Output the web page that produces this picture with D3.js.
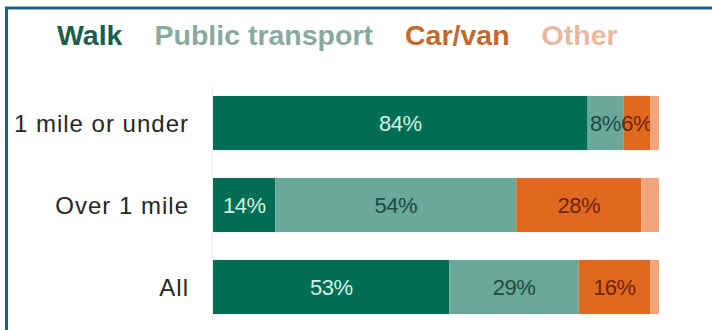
<!DOCTYPE html>
<html>
<head>
<meta charset="utf-8">
<script src="https://cdn.jsdelivr.net/npm/d3@7"></script>
<style>
  html, body { margin: 0; padding: 0; background: #fff; }
  svg { display: block; font-family: "Liberation Sans", Arial, sans-serif; }
</style>
</head>
<body>
<div id="chart"></div>
<script>
const categories = ['1 mile or under', 'Over 1 mile', 'All'];
const modes = ['Walk', 'Public transport', 'Car/van', 'Other'];
const walk = [84, 14, 53];
const publicTransport = [8, 54, 29];
const carVan = [6, 28, 16];
const other = [2, 4, 2];

const barColors = ['#006e54', '#6aa89a', '#e0691f', '#f0a57a'];
const legendColors = ['#1c5e4c', '#88aa9e', '#c4692e', '#e8b9a1'];
const labelColors = ['#d2f2e4', '#1e4a42', '#6b2410', '#6b2410'];

const W = 712, H = 330;

const rows = categories.map((c, i) => ({
  cat: c,
  'Walk': walk[i],
  'Public transport': publicTransport[i],
  'Car/van': carVan[i],
  'Other': other[i]
}));

const svg = d3.select('#chart').append('svg')
  .attr('width', W)
  .attr('height', H);

// frame
svg.append('line')
  .attr('x1', 5).attr('x2', W).attr('y1', 8).attr('y2', 8)
  .attr('stroke', '#1b6088').attr('stroke-width', 3);
svg.append('line')
  .attr('x1', 6.5).attr('x2', 6.5).attr('y1', 7).attr('y2', H)
  .attr('stroke', '#1b6088').attr('stroke-width', 3);

const x = d3.scaleLinear().domain([0, 100]).range([213, 659]);
const y = d3.scaleBand().domain(categories).range([82, 328]).paddingInner(0.34).paddingOuter(0.17);

// faint axis line
svg.append('line')
  .attr('x1', x(0) - 0.5).attr('x2', x(0) - 0.5)
  .attr('y1', 85).attr('y2', 322)
  .attr('stroke', '#eeeeee').attr('stroke-width', 1);

const series = d3.stack().keys(modes)(rows);

const g = svg.append('g');

series.forEach((s, si) => {
  const layer = g.append('g');
  layer.selectAll('rect')
    .data(s)
    .join('rect')
    .attr('x', d => x(d[0]))
    .attr('y', d => y(d.data.cat))
    .attr('width', d => x(d[1]) - x(d[0]))
    .attr('height', y.bandwidth())
    .attr('fill', barColors[si]);

  // only label segments wide enough to hold the text
  layer.selectAll('text')
    .data(s.filter(d => d[1] - d[0] >= 5))
    .join('text')
    .attr('x', d => (x(d[0]) + x(d[1])) / 2)
    .attr('y', d => y(d.data.cat) + y.bandwidth() / 2)
    .attr('dy', '0.36em')
    .attr('text-anchor', 'middle')
    .attr('font-size', 22)
    .attr('letter-spacing', -0.5)
    .attr('fill', labelColors[si])
    .text(d => (d[1] - d[0]) + '%');
});

// category labels
svg.append('g').selectAll('text')
  .data(categories)
  .join('text')
  .attr('x', 189)
  .attr('y', d => y(d) + y.bandwidth() / 2)
  .attr('dy', '0.36em')
  .attr('text-anchor', 'end')
  .attr('font-size', 24)
  .attr('letter-spacing', 1)
  .attr('fill', '#262626')
  .text(d => d);

// legend
const legend = svg.append('g');
let lx = 57;
modes.forEach((m, i) => {
  const t = legend.append('text')
    .attr('x', lx)
    .attr('y', 45)
    .attr('font-size', 28.5)
    .attr('font-weight', 'bold')
    .attr('fill', legendColors[i])
    .text(m);
  lx += t.node().getComputedTextLength() + 32;
});
</script>
</body>
</html>
